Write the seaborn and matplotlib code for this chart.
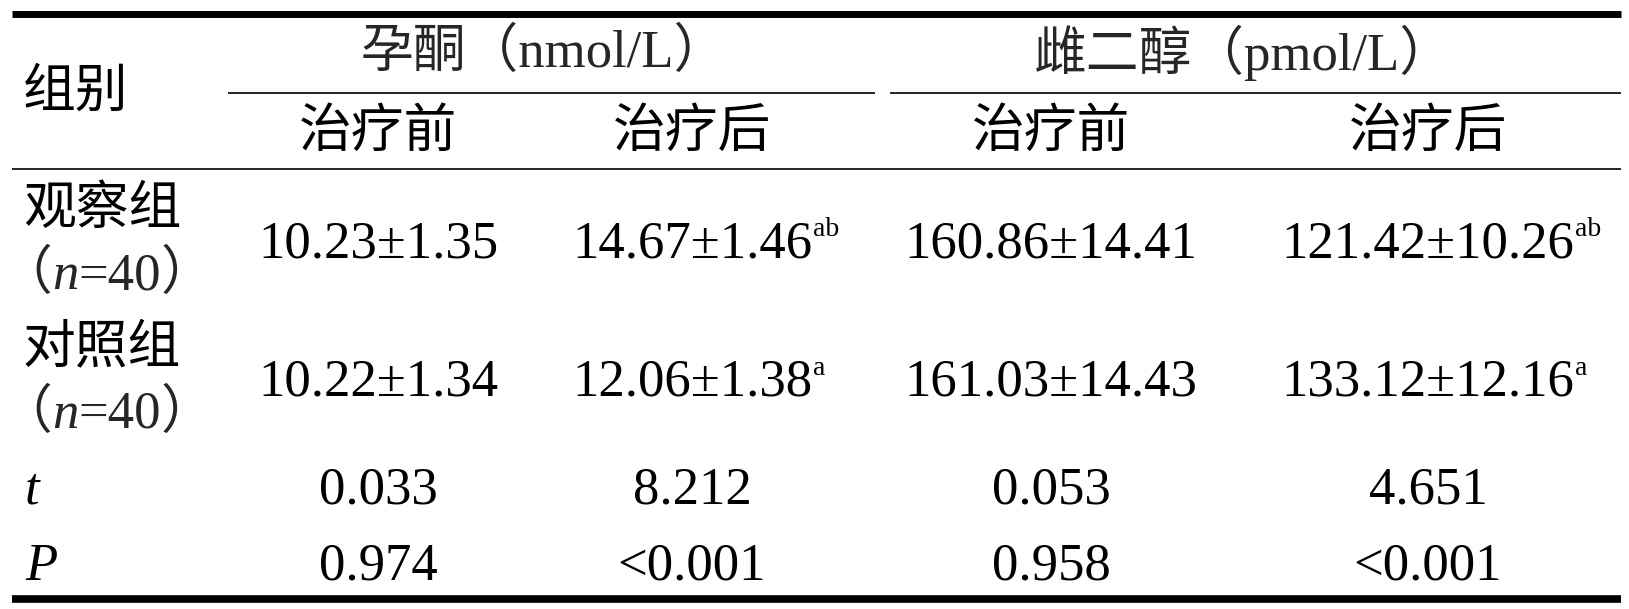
import matplotlib
matplotlib.use("Agg")
import matplotlib.pyplot as plt
import seaborn as sns

# table content
groups = ["观察组", "对照组"]
group_n = [40, 40]
prog_before_mean = [10.23, 10.22]
prog_before_sd = [1.35, 1.34]
prog_after_mean = [14.67, 12.06]
prog_after_sd = [1.46, 1.38]
prog_after_sup = ["ab", "a"]
e2_before_mean = [160.86, 161.03]
e2_before_sd = [14.41, 14.43]
e2_after_mean = [121.42, 133.12]
e2_after_sd = [10.26, 12.16]
e2_after_sup = ["ab", "a"]
t_vals = ["0.033", "8.212", "0.053", "4.651"]
p_vals = ["0.974", "<0.001", "0.958", "<0.001"]
top_headers = ["孕酮（nmol/L）", "雌二醇（pmol/L）"]
sub_headers = ["治疗前", "治疗后", "治疗前", "治疗后"]
first_col_header = "组别"

sns.set_theme(style="white")
plt.rcParams['font.family'] = ['Liberation Serif', 'Noto Sans CJK SC', 'DejaVu Sans']

W, H = 1629, 609
fig = plt.figure(figsize=(W / 100, H / 100), dpi=100)
ax = fig.add_axes([0, 0, 1, 1])
ax.set_xlim(0, W)
ax.set_ylim(H, 0)
ax.axis("off")
renderer = fig.canvas.get_renderer()

NUM = dict(family=['Liberation Serif', 'Noto Sans CJK SC'], fontsize=38, color="black")
CJK = dict(family=['Noto Sans CJK SC', 'Liberation Serif'], fontsize=38, color="black")
SUP = dict(family=['Liberation Serif'], fontsize=20, color="black")

col_x = [378, 692, 1051, 1428]
group_x = [544, 1243]
left_x = 23


def right_edge(t):
    bb = t.get_window_extent(renderer=renderer)
    return ax.transData.inverted().transform((bb.x1, bb.y0))[0]


def draw_runs(x, y, runs):
    for s, kw in runs:
        t = ax.text(x, y, s, ha="left", va="baseline", **kw)
        x = right_edge(t)


def value_cell(x, y, s, sup=None):
    t = ax.text(x, y, s, ha="center", va="baseline", **NUM)
    if sup:
        ax.text(right_edge(t) + 1, y - 21, sup, ha="left", va="baseline", **SUP)


# rules
ax.plot([12, 1621], [14, 14], color="black", lw=5, solid_capstyle="butt")
ax.plot([12, 1621], [599, 599], color="black", lw=5.5, solid_capstyle="butt")
ax.plot([12, 1621], [169, 169], color="black", lw=1.2, solid_capstyle="butt")
ax.plot([228, 875], [92.5, 92.5], color="black", lw=1.2, solid_capstyle="butt")
ax.plot([890, 1621], [92.5, 92.5], color="black", lw=1.2, solid_capstyle="butt")

# header
ax.text(left_x, 91, first_col_header, ha="left", va="center", **CJK)
for gx, h in zip(group_x, top_headers):
    ax.text(gx, 53, h, ha="center", va="center",
            family=['Liberation Serif', 'Noto Sans CJK SC'], fontsize=38)
for cx, h in zip(col_x, sub_headers):
    ax.text(cx, 131, h, ha="center", va="center", **CJK)

# group rows
row_base = [257, 396]
for i, g in enumerate(groups):
    yb = row_base[i]
    ax.text(left_x, yb - 49, g, ha="left", va="center", **CJK)
    draw_runs(left_x - 24, yb + 32, [
        ("（", dict(family=['Noto Sans CJK SC'], fontsize=38)),
        ("n", dict(family=['Liberation Serif'], fontsize=38, style="italic")),
        ("=" + str(group_n[i]), dict(family=['Liberation Serif'], fontsize=38)),
        ("）", dict(family=['Noto Sans CJK SC'], fontsize=38)),
    ])
    value_cell(col_x[0], yb, f"{prog_before_mean[i]:.2f}±{prog_before_sd[i]:.2f}")
    value_cell(col_x[1], yb, f"{prog_after_mean[i]:.2f}±{prog_after_sd[i]:.2f}", prog_after_sup[i])
    value_cell(col_x[2], yb, f"{e2_before_mean[i]:.2f}±{e2_before_sd[i]:.2f}")
    value_cell(col_x[3], yb, f"{e2_after_mean[i]:.2f}±{e2_after_sd[i]:.2f}", e2_after_sup[i])

# statistics rows
ax.text(left_x + 2, 503, "t", ha="left", va="baseline", style="italic", **NUM)
ax.text(left_x + 2, 580, "P", ha="left", va="baseline", style="italic", **NUM)
for cx, tv, pv in zip(col_x, t_vals, p_vals):
    value_cell(cx, 503, tv)
    value_cell(cx, 580, pv)

fig.savefig("out.png", dpi=100, facecolor="white")
